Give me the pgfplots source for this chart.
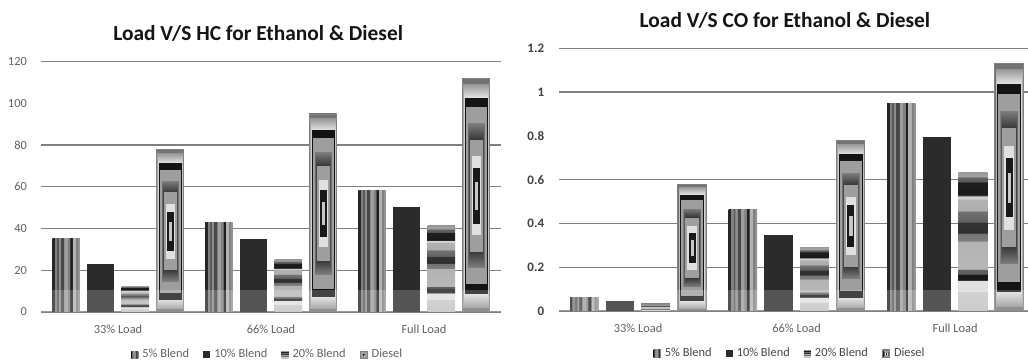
\documentclass[border=0pt]{standalone}
\usepackage{fontspec}
\setmainfont{Carlito}
\usepackage{pgfplots}
\pgfplotsset{compat=1.18}

% Texture fills for the four series
% 5% Blend: vertical stripes across the bar width
\pgfdeclarehorizontalshading{vstripes}{100bp}{%
  color(0bp)=(black!85); color(25bp)=(black!85);
  color(25.1bp)=(black!85); color(28.5bp)=(black!85);
  color(28.6bp)=(black!50); color(33bp)=(black!50);
  color(33.1bp)=(black!65); color(36bp)=(black!65);
  color(36.1bp)=(black!45); color(40bp)=(black!45);
  color(40.1bp)=(black!72); color(46bp)=(black!72);
  color(46.1bp)=(black!38); color(52bp)=(black!38);
  color(52.1bp)=(black!50); color(57bp)=(black!50);
  color(57.1bp)=(black!88); color(61bp)=(black!88);
  color(61.1bp)=(black!30); color(67bp)=(black!30);
  color(67.1bp)=(black!50); color(71bp)=(black!50);
  color(71.1bp)=(black!42); color(75bp)=(black!42);
  color(100bp)=(black!42)}

% 20% Blend: horizontal stripes up the bar height
\pgfdeclareverticalshading{hstripes}{100bp}{%
  color(0bp)=(black!25); color(25bp)=(black!25);
  color(32bp)=(black!22);
  color(32.1bp)=(black!12); color(36bp)=(black!12);
  color(36.1bp)=(black!90); color(38.3bp)=(black!90);
  color(38.4bp)=(black!65); color(40bp)=(black!60);
  color(40.1bp)=(black!28); color(50bp)=(black!30);
  color(50.1bp)=(black!50); color(53bp)=(black!55);
  color(53.1bp)=(black!82); color(57bp)=(black!80);
  color(57.1bp)=(black!62); color(61bp)=(black!55);
  color(61.1bp)=(black!32); color(65.4bp)=(black!30);
  color(65.5bp)=(black!18); color(66.6bp)=(black!18);
  color(66.7bp)=(black!90); color(71.4bp)=(black!88);
  color(71.5bp)=(black!65); color(73.2bp)=(black!60);
  color(73.3bp)=(black!35); color(75bp)=(black!40);
  color(100bp)=(black!40)}

% Diesel: concentric rectangular rings
\pgfdeclarefunctionalshading{rings}{\pgfpointorigin}{\pgfpoint{100bp}{100bp}}{}{%
  50 sub abs exch 50 sub abs 2 copy lt {exch} if pop 25 div
  dup 0.12 lt {pop 0.78}{
   dup 0.24 lt {pop 0.1}{
    dup 0.34 lt {pop 0.88}{
     dup 0.48 lt {pop 0.62}{
      dup 0.62 lt {0.48 sub 2 mul 0.22 add}{
       dup 0.76 lt {pop 0.62}{
        dup 0.84 lt {pop 0.08}{
         dup 0.96 lt {0.84 sub -2.5 mul 0.88 add}{pop 0.45} ifelse
        } ifelse } ifelse } ifelse } ifelse } ifelse } ifelse } ifelse
  dup dup}

\pgfplotsset{
  s5/.style={ybar, bar width=0.18, bar shift=-0.339, draw=none, fill=black!55, shade, shading=vstripes},
  s10/.style={ybar, bar width=0.18, bar shift=-0.113, draw=none, fill=black!83},
  s20/.style={ybar, bar width=0.18, bar shift=0.113, draw=none, fill=black!45, shade, shading=hstripes},
  sD/.style={ybar, bar width=0.18, bar shift=0.339, draw=black!50, line width=0.4pt, fill=black!50, shade, shading=rings},
  loadchart/.style={
    scale only axis,
    anchor=south west,
    xmin=-0.5,
    ymin=0,
    xtick={0,1,2},
    xticklabels={33\% Load, 66\% Load, Full Load},
    axis line style={draw=none},
    major tick length=0pt,
    ymajorgrids,
    grid style={black!50, line width=0.7pt},
    extra y tick style={grid=none},
    /pgf/number format/assume math mode=true,
    tick label style={font=\fontsize{6.2}{7}\selectfont, text=black!62},
    xticklabel style={anchor=center, yshift=-8.5pt},
    yticklabel style={xshift=-3.8pt},
    title style={anchor=center, yshift=8pt, font=\fontsize{10.7}{12}\selectfont\bfseries, text=black!92},
    legend columns=4,
    legend style={draw=none, fill=none, anchor=center,
      font=\fontsize{6.2}{7}\selectfont, text=black!62,
      /tikz/every even column/.append style={column sep=5pt}},
    legend image code/.code={\path[#1] (0pt,-1.8pt) rectangle (3.6pt,1.8pt);},
  },
}

\begin{document}
\begin{tikzpicture}
\useasboundingbox (0pt,0pt) rectangle (514pt,181pt);

% HC emissions (one path per bar so each bar carries its own texture)
\begin{axis}[loadchart,
  at={(20.75pt,25pt)}, width=229.5pt, height=125.35pt,
  xmax=2.5, ymax=120,
  ytick={0,20,40,60,80,120}, extra y ticks={100},
  title={Load V/S HC for Ethanol \& Diesel},
  title style={at={(rel axis cs:0.472,1)}},
  legend style={at={(0.495,-0.17)}},
]
\addplot[s5]  coordinates {(0,35)};
\addplot[s5, forget plot] coordinates {(1,43)};
\addplot[s5, forget plot] coordinates {(2,58)};
\addplot[s10] coordinates {(0,23)};
\addplot[s10, forget plot] coordinates {(1,35)};
\addplot[s10, forget plot] coordinates {(2,50.4)};
\addplot[s20] coordinates {(0,12.4)};
\addplot[s20, forget plot] coordinates {(1,25)};
\addplot[s20, forget plot] coordinates {(2,41.2)};
\addplot[sD]  coordinates {(0,77.7)};
\addplot[sD, forget plot] coordinates {(1,94.8)};
\addplot[sD, forget plot] coordinates {(2,111.7)};
\legend{5\% Blend, 10\% Blend, 20\% Blend, Diesel}
\fill[white, opacity=0.2] (rel axis cs:0,0) rectangle ([yshift=11pt]rel axis cs:1,0);
\end{axis}

% CO emissions
\begin{axis}[loadchart,
  at={(279.4pt,25.5pt)}, width=234.6pt, height=131.35pt,
  xmax=2.46, ymax=1.2,
  ytick={0,0.2,0.4,0.6,1,1.2}, extra y ticks={0.8},
  yticklabel style={font=\fontsize{6.5}{7}\selectfont\bfseries, text=black!75},
  title={Load V/S CO for Ethanol \& Diesel},
  title style={at={(rel axis cs:0.482,1)}},
  legend style={at={(0.495,-0.162)}, text=black!72},
]
\addplot[s5]  coordinates {(0,0.06)};
\addplot[s5, forget plot] coordinates {(1,0.464)};
\addplot[s5, forget plot] coordinates {(2,0.947)};
\addplot[s10] coordinates {(0,0.047)};
\addplot[s10, forget plot] coordinates {(1,0.346)};
\addplot[s10, forget plot] coordinates {(2,0.793)};
\addplot[s20] coordinates {(0,0.038)};
\addplot[s20, forget plot] coordinates {(1,0.291)};
\addplot[s20, forget plot] coordinates {(2,0.633)};
\addplot[sD]  coordinates {(0,0.58)};
\addplot[sD, forget plot] coordinates {(1,0.781)};
\addplot[sD, forget plot] coordinates {(2,1.131)};
\legend{5\% Blend, 10\% Blend, 20\% Blend, Diesel}
\fill[white, opacity=0.2] (rel axis cs:0,0) rectangle ([yshift=10.5pt]rel axis cs:1,0);
\end{axis}
\end{tikzpicture}
\end{document}
